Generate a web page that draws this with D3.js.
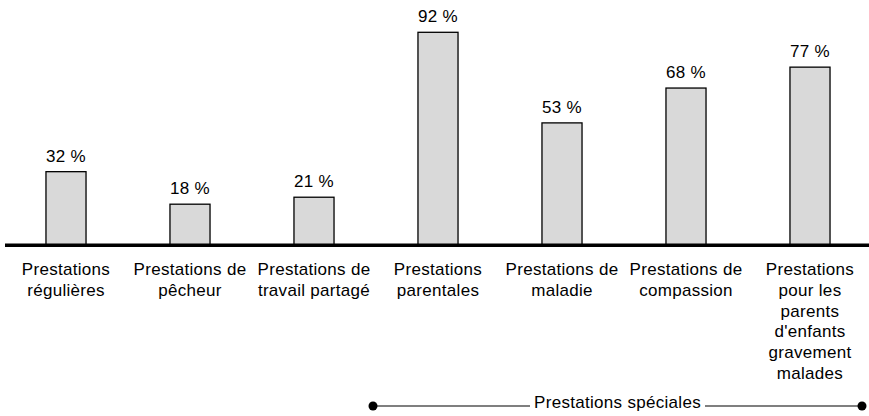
<!DOCTYPE html>
<html>
<head>
<meta charset="utf-8">
<script src="https://cdn.jsdelivr.net/npm/d3@7"></script>
<style>
  html, body { margin: 0; padding: 0; background: #fff; }
  svg { display: block; }
  text { font-family: "Liberation Sans", Arial, sans-serif; fill: #000; letter-spacing: 0.3px; }
</style>
</head>
<body>
<svg id="chart" width="869" height="416"></svg>
<script>
const categories = [
  ["Prestations", "régulières"],
  ["Prestations de", "pêcheur"],
  ["Prestations de", "travail partagé"],
  ["Prestations", "parentales"],
  ["Prestations de", "maladie"],
  ["Prestations de", "compassion"],
  ["Prestations", "pour les", "parents", "d'enfants", "gravement", "malades"]
];
const values = [32, 18, 21, 92, 53, 68, 77];
const valueLabels = ["32 %", "18 %", "21 %", "92 %", "53 %", "68 %", "77 %"];
const groupLabel = "Prestations spéciales";
const groupStart = 3; // index of first "spéciales" category

const svg = d3.select("#chart");
const ids = categories.map((d, i) => i);

const x = d3.scaleBand().domain(ids).range([4, 872]).paddingInner(0.677).paddingOuter(0.3385);
const y = d3.scaleLinear().domain([0, 92]).range([246, 32.3]);

// bars
svg.selectAll("rect.bar").data(values).enter().append("rect")
  .attr("class", "bar")
  .attr("x", (d, i) => x(i))
  .attr("y", d => y(d))
  .attr("width", x.bandwidth())
  .attr("height", d => y(0) - y(d))
  .attr("fill", "#d9d9d9")
  .attr("stroke", "#000")
  .attr("stroke-width", 1.3);

// baseline axis
svg.append("line")
  .attr("x1", 5).attr("x2", 869)
  .attr("y1", 245.3).attr("y2", 245.3)
  .attr("stroke", "#000").attr("stroke-width", 3.4);

// value labels
svg.selectAll("text.val").data(values).enter().append("text")
  .attr("class", "val")
  .attr("x", (d, i) => x(i) + x.bandwidth() / 2)
  .attr("y", d => y(d) - 10)
  .attr("text-anchor", "middle")
  .attr("font-size", "17px")
  .text((d, i) => valueLabels[i]);

// category labels
const cat = svg.selectAll("text.cat").data(categories).enter().append("text")
  .attr("class", "cat")
  .attr("text-anchor", "middle")
  .attr("font-size", "17px");
cat.each(function(lines, i) {
  const t = d3.select(this);
  lines.forEach((ln, j) => {
    t.append("tspan")
      .attr("x", x(i) + x.bandwidth() / 2)
      .attr("y", 275 + j * 20.8)
      .text(ln);
  });
});

// group bracket
const step = x.step();
const bx1 = x(groupStart) + x.bandwidth() / 2 - step / 2 - 3;
const bx2 = x(categories.length - 1) + x.bandwidth() / 2 + 52;
const by = 406;
const mid = (bx1 + bx2) / 2;
const gt = svg.append("text")
  .attr("x", mid).attr("y", by + 1.5)
  .attr("text-anchor", "middle")
  .attr("font-size", "17px")
  .text(groupLabel);
const tw = gt.node().getComputedTextLength();
svg.append("line").attr("x1", bx1).attr("x2", mid - tw / 2 - 4)
  .attr("y1", by).attr("y2", by).attr("stroke", "#000").attr("stroke-width", 1.2);
svg.append("line").attr("x1", mid + tw / 2 + 4).attr("x2", bx2)
  .attr("y1", by).attr("y2", by).attr("stroke", "#000").attr("stroke-width", 1.2);
svg.selectAll("circle.dot").data([bx1, bx2]).enter().append("circle")
  .attr("cx", d => d).attr("cy", by).attr("r", 4.5).attr("fill", "#000");
</script>
</body>
</html>
